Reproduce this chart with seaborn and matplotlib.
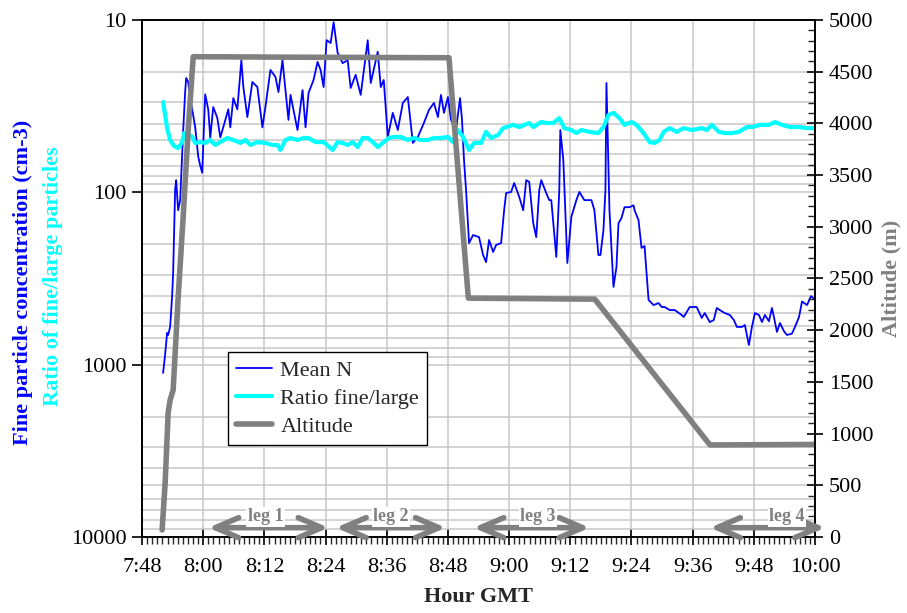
import matplotlib
matplotlib.use('Agg')
import matplotlib.pyplot as plt
import matplotlib.ticker as mticker
import numpy as np
import pandas as pd
import seaborn as sns

# temps en minutes depuis 7:48
mean_n_min = [4.13, 4.52, 4.92, 5.12, 5.51, 5.90, 6.10, 6.49, 6.69, 7.08, 7.48, 7.87, 8.07, 8.46, 8.66,
              9.05, 9.44, 9.84, 10.43, 11.02, 11.41, 11.80, 12.39, 12.98, 13.38, 13.97, 14.76, 15.35,
              16.13, 16.92, 17.31, 17.90, 18.69, 19.48, 19.87, 20.66, 21.64, 22.62, 23.61, 24.20,
              25.18, 26.17, 26.76, 27.54, 28.13, 28.72, 29.12, 30.49, 31.48, 32.07, 32.66, 33.64,
              34.43, 35.02, 35.61, 36.20, 36.99, 37.58, 38.36, 39.35, 40.33, 40.92, 41.90, 42.89,
              44.27, 44.86, 46.23, 46.82, 47.41, 48.20, 49.18, 50.17, 51.15, 52.13, 53.12, 54.10,
              55.28, 56.27, 57.25, 58.04, 58.63, 59.22, 60.00, 60.59, 61.58, 62.37, 62.76, 63.15,
              63.55, 64.14, 64.92, 66.10, 66.89, 67.48, 68.07, 68.86, 69.45, 70.43, 71.02, 71.41,
              72.40, 72.99, 73.97, 74.76, 75.35, 75.94, 76.73, 77.32, 77.91, 78.30, 79.28, 79.87,
              80.27, 81.25, 81.84, 82.04, 82.63, 83.42, 84.20, 85.19, 85.78, 86.76, 88.14, 88.73,
              89.51, 89.91, 90.50, 90.89, 91.09, 91.68, 92.07, 92.47, 93.05, 93.45, 94.04, 94.63,
              95.61, 96.40, 96.60, 97.38, 97.97, 98.56, 99.35, 100.33, 101.32, 101.91, 102.50,
              103.48, 104.47, 105.84, 106.24, 107.42, 108.20, 108.79, 109.78, 110.37, 111.35,
              112.14, 112.73, 113.32, 114.30, 115.29, 116.08, 116.67, 117.65, 118.24, 119.03,
              119.62, 120.21, 121.00, 121.59, 122.17, 122.96, 123.55, 123.94, 124.53, 125.12,
              125.91, 126.50, 127.48, 128.07, 128.86, 129.45, 130.43, 131.22, 132.00]
mean_n_val = [1117, 879, 655, 673, 604, 400, 294, 97, 85, 127, 111, 59, 44, 26, 21.7,
              22.9, 29, 33, 42, 62, 70, 77, 27, 33, 48, 32, 37, 48,
              40, 33, 42, 28.4, 33, 17.1, 24.5, 36.6, 22.9, 24.5, 42, 32,
              19.5, 21.4, 26.2, 17.1, 25.5, 38, 27.2, 43.5, 25.5, 42, 26.5, 22.3,
              17.5, 19.5, 24.5, 13.1, 13.6, 10.3, 15.5, 17.8, 17.1, 24.8, 20.8, 27.2,
              13.1, 23.2, 15.3, 24.5, 22.3, 47.7, 34.6, 43.5, 30.3, 28, 51.7, 47.7,
              39.6, 33.3, 30.3, 36.6, 27.2, 34.6, 28, 38, 43.5, 28.4, 38, 64.9,
              97, 197, 177, 182, 231, 254, 189, 222, 202, 197, 127, 101,
              99.5, 88.3, 106, 127, 85, 87, 151, 182, 97, 85, 101, 111,
              111, 237, 97, 43.5, 65, 257, 139, 111, 99.5, 111, 111, 127,
              231, 231, 166, 97, 23.2, 127, 208, 354, 271, 151, 141, 122,
              122, 119, 127, 145, 210, 205, 421, 451, 439, 463, 463,
              482, 482, 515, 529, 463, 463, 463, 536, 502, 566,
              551, 469, 482, 502, 515, 551, 604, 604, 589, 769,
              604, 502, 515, 566, 515, 560, 469, 529, 646, 573,
              640, 673, 660, 604, 529, 430, 451, 400, 420]

ratio_min = [4.13, 4.92, 5.51, 6.30, 7.08, 7.87, 8.27, 9.05, 9.84, 10.43, 11.41, 12.39, 13.38, 14.36,
             15.35, 16.72, 17.90, 19.28, 20.26, 21.25, 22.62, 24.20, 25.57, 26.56, 27.15, 28.13,
             29.12, 30.49, 31.67, 32.66, 34.04, 35.61, 37.38, 38.36, 39.35, 40.33, 41.31, 42.30,
             43.28, 44.27, 45.25, 46.23, 47.41, 48.40, 49.38, 50.76, 52.13, 53.32, 54.69, 56.07,
             57.25, 58.63, 60.00, 60.99, 61.97, 62.96, 64.14, 65.12, 66.50, 67.48, 68.46, 69.84,
             70.82, 72.79, 73.97, 75.94, 76.73, 78.30, 79.28, 80.66, 81.84, 82.83, 84.20, 85.19,
             86.17, 87.74, 89.51, 90.50, 91.48, 92.47, 93.65, 94.63, 96.01, 96.99, 98.37, 99.55,
             100.53, 101.52, 102.30, 103.48, 104.86, 106.24, 107.81, 109.78, 110.76, 111.75,
             113.12, 114.30, 115.68, 117.06, 118.63, 119.62, 121.19, 122.96, 124.14, 125.52,
             127.09, 128.86, 130.43, 131.81]
ratio_val = [29.9, 42.4, 49.7, 53.9, 55.4, 51.1, 45.3, 45.9, 47.7, 51.7, 51.1, 51.7, 49.7, 53.1,
             51.1, 48.4, 49.7, 51.7, 49.7, 53.1, 51.1, 51.7, 53.1, 53.1, 56.8, 49.7,
             48.4, 49.7, 48.4, 48.4, 51.1, 51.1, 56.8, 51.1, 51.7, 53.1, 51.1, 54.6,
             48.4, 48.4, 51.1, 54.6, 51.1, 48.4, 47.7, 47.7, 49.7, 48.4, 49.7, 49.7,
             48.4, 48.4, 47.7, 51.1, 43.5, 47.7, 56.8, 51.7, 51.7, 44.6, 48.4, 46.5,
             42.4, 40.6, 41.8, 39.6, 41.8, 39.1, 39.6, 39.6, 37.1, 42.4, 43.5, 45.3,
             43.5, 44.6, 45.3, 41.8, 35.6, 34.6, 37.1, 40.6, 39.1, 40.6, 45.3, 51.1,
             51.7, 49.7, 44.6, 42.4, 44.6, 42.4, 43.5, 42.4, 43.5, 40.6,
             44.6, 45.3, 45.3, 44.6, 41.8, 41.8, 40.6, 40.6, 39.1, 40.6,
             41.8, 41.8, 42.4, 42.4]

alt_min = [3.94, 4.53, 5.12, 5.51, 6.10, 7.09, 8.07, 9.06, 10.04, 30.0, 60.2, 64.0, 88.8, 111.4, 132.0]
alt_val = [68, 520, 1200, 1325, 1420, 2320, 3100, 3940, 4645, 4640, 4635, 2310, 2300, 890, 895]

x_ticks = [0, 12, 24, 36, 48, 60, 72, 84, 96, 108, 120, 132]
x_labels = ['7:48', '8:00', '8:12', '8:24', '8:36', '8:48', '9:00', '9:12', '9:24', '9:36', '9:48', '10:00']

leg_names = ['leg 1', 'leg 2', 'leg 3', 'leg 4']
leg_start = [13.0, 38.0, 65.0, 111.4]
leg_end = [36.6, 59.6, 87.8, 134.0]
leg_text_x = [24.2, 48.8, 77.7, 126.5]

sns.set_theme(style="white")
plt.rcParams['font.family'] = ['Liberation Serif', 'DejaVu Serif']

fig, ax = plt.subplots(figsize=(9.07, 6.13), dpi=100)
fig.subplots_adjust(left=0.1566, right=0.8986, top=0.9674, bottom=0.124)
ax2 = ax.twinx()

grey = '#808080'
sns.lineplot(x=mean_n_min, y=mean_n_val, ax=ax, color='#0000ff', lw=1.3, estimator=None, sort=False)
sns.lineplot(x=ratio_min, y=ratio_val, ax=ax, color='#00ffff', lw=3, estimator=None, sort=False)
sns.lineplot(x=alt_min, y=alt_val, ax=ax2, color=grey, lw=4, estimator=None, sort=False)

ax.set_yscale('log')
ax.set_ylim(10000, 10)
ax.set_xlim(0, 132)
ax2.set_ylim(0, 5000)

# ticks
ax.xaxis.set_major_locator(mticker.FixedLocator(x_ticks))
ax.xaxis.set_major_formatter(mticker.FixedFormatter(x_labels))
ax.xaxis.set_minor_locator(mticker.MultipleLocator(1))
ax.yaxis.set_major_locator(mticker.FixedLocator([10, 100, 1000, 10000]))
ax.yaxis.set_major_formatter(mticker.FixedFormatter(['10', '100', '1000', '10000']))
ax.yaxis.set_minor_locator(mticker.LogLocator(base=10, subs=np.arange(2, 10)))
ax.yaxis.set_minor_formatter(mticker.NullFormatter())
ax2.yaxis.set_major_locator(mticker.MultipleLocator(500))
ax2.yaxis.set_minor_locator(mticker.MultipleLocator(100))

ax.tick_params(axis='x', which='major', bottom=True, direction='inout', length=12, width=1.2,
               labelsize=16, pad=9, colors='black')
ax.tick_params(axis='x', which='minor', bottom=True, direction='out', length=5, width=1)
ax.tick_params(axis='y', which='major', left=True, direction='out', length=7, width=1.2,
               labelsize=16, pad=4, colors='black')
ax.tick_params(axis='y', which='minor', left=False, length=0)
ax2.tick_params(axis='y', which='major', right=True, direction='inout', length=12, width=1.2,
                labelsize=16, pad=4, colors='black')
ax2.tick_params(axis='y', which='minor', right=True, direction='in', length=5, width=1)

ax.grid(True, which='both', axis='y', color='#c8c8c8', lw=1.1)
ax.grid(True, which='major', axis='x', color='#c8c8c8', lw=1.1)
for a in (ax, ax2):
    for s in a.spines.values():
        s.set_color('black')
        s.set_linewidth(1.2)

# labels
ax.set_xlabel('Hour GMT', fontsize=16, fontweight='bold', labelpad=7)
ax.set_ylabel('')
ax2.set_ylabel('Altitude (m)', color=grey, fontsize=16, fontweight='bold', labelpad=6)
fig.text(0.025, 0.54, 'Fine particle concentration (cm-3)', rotation=90, color='#0000ff',
         fontsize=16, fontweight='bold', ha='center', va='center')
fig.text(0.058, 0.55, 'Ratio of fine/large particles', rotation=90, color='#00ffff',
         fontsize=16, fontweight='bold', ha='center', va='center')

# legs
for name, x0, x1, tx in zip(leg_names, leg_start, leg_end, leg_text_x):
    ax2.annotate('', xy=(x1, 90), xytext=(x0, 90), annotation_clip=False, zorder=4,
                 arrowprops=dict(arrowstyle='<->,head_length=1.4,head_width=0.6', color=grey,
                                 lw=4, shrinkA=0, shrinkB=0))
    ax2.text(tx, 195, name, ha='center', va='center', fontsize=13, fontweight='bold', color=grey,
             bbox=dict(facecolor='white', edgecolor='none', pad=1), clip_on=False, zorder=5)

handles = [ax.lines[0], ax.lines[1], ax2.lines[0]]
leg = ax2.legend(handles, ['Mean N', 'Ratio fine/large', 'Altitude'], loc='lower left',
                 bbox_to_anchor=(0.128, 0.178), borderaxespad=0, fontsize=16, frameon=True,
                 fancybox=False, edgecolor='black', framealpha=1, handlelength=1.6, borderpad=0.35,
                 labelspacing=0.35, handletextpad=0.4)
leg.get_frame().set_linewidth(1.0)

plt.savefig('out.png', dpi=100)
